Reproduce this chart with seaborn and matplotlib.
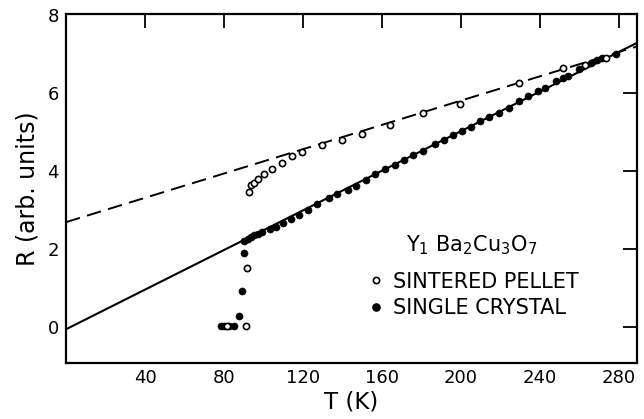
import matplotlib
matplotlib.use("Agg")
import matplotlib.pyplot as plt
import seaborn as sns
import pandas as pd
from matplotlib.lines import Line2D

# ---- data ----
crystal_T = [78.5, 80.2, 82.7, 85.2, 87.8, 88.9, 90.0, 90.3, 92.0, 93.7, 95.3, 97.0,
             99.5, 103.4, 106.3, 110.0, 113.9, 118.1, 122.4, 127.2, 133.0, 137.5,
             142.6, 146.9, 152.0, 156.7, 161.7, 166.6, 171.4, 176.0, 180.7, 187.1,
             191.2, 196.0, 200.6, 205.3, 209.9, 214.3, 219.3, 224.4, 229.5, 234.2,
             239.1, 242.4, 248.4, 251.8, 254.3, 260.0, 266.1, 269.0, 271.7, 278.8]
crystal_R = [0.03, 0.03, 0.03, 0.03, 0.28, 0.93, 1.91, 2.22, 2.27, 2.32, 2.35, 2.38,
             2.44, 2.51, 2.56, 2.66, 2.76, 2.87, 3.00, 3.15, 3.30, 3.40,
             3.52, 3.62, 3.77, 3.92, 4.04, 4.16, 4.28, 4.41, 4.52, 4.69,
             4.80, 4.91, 5.01, 5.13, 5.28, 5.37, 5.48, 5.62, 5.78, 5.92,
             6.05, 6.12, 6.31, 6.37, 6.42, 6.60, 6.77, 6.84, 6.88, 6.99]

pellet_T = [81.3, 91.2, 91.7, 92.5, 93.7, 95.0, 97.3, 100.2, 104.4, 109.5, 114.4,
            119.6, 129.8, 139.6, 149.7, 164.3, 180.9, 199.3, 229.6, 251.5, 262.7, 273.3]
pellet_R = [0.03, 0.03, 1.52, 3.47, 3.63, 3.70, 3.79, 3.93, 4.06, 4.19, 4.38,
            4.48, 4.65, 4.80, 4.95, 5.18, 5.47, 5.70, 6.26, 6.62, 6.72, 6.90]

fit_T = [0, 289]
solid_R = [-0.05, 7.27]
dashed_R = [2.69, 7.18]

x_ticks = [40, 80, 120, 160, 200, 240, 280]
y_ticks = [0, 2, 4, 6, 8]
compound = "Y$_{1}$ Ba$_{2}$Cu$_{3}$O$_{7}$"
label_pellet = "SINTERED PELLET"
label_crystal = "SINGLE CRYSTAL"

# ---- plotting ----
sns.set_style("white")
plt.rcParams["font.family"] = ["DejaVu Sans"]
plt.rcParams["mathtext.fontset"] = "dejavusans"
for key in ["text.color", "axes.labelcolor", "xtick.color", "ytick.color", "axes.edgecolor"]:
    plt.rcParams[key] = "black"

fig = plt.figure(figsize=(6.44, 4.19), dpi=100)
ax = fig.add_axes([66 / 644, 1 - 362.5 / 419, (637 - 66) / 644, (362.5 - 14.5) / 419])

fit_df = pd.DataFrame({"T": fit_T, "solid": solid_R, "dashed": dashed_R})
sns.lineplot(data=fit_df, x="T", y="solid", ax=ax, color="black", lw=1.5)
sns.lineplot(data=fit_df, x="T", y="dashed", ax=ax, color="black", lw=1.4,
             dashes=False, linestyle=(0, (7.5, 3.8)))

cdf = pd.DataFrame({"T": crystal_T, "R": crystal_R})
pdf = pd.DataFrame({"T": pellet_T, "R": pellet_R})
sns.scatterplot(data=cdf, x="T", y="R", ax=ax, color="black", s=26,
                edgecolor="black", linewidth=0.4, zorder=5)
sns.scatterplot(data=pdf, x="T", y="R", ax=ax, facecolor="white", s=20,
                edgecolor="black", linewidth=1.2, zorder=6)

ax.set_xlim(0, 289.2)
ax.set_ylim(-0.9, 8)
ax.set_xticks(x_ticks)
ax.set_yticks(y_ticks)
ax.tick_params(direction="in", length=10, width=1.3, top=True, right=True,
               labelsize=13, pad=5, color="black", labelcolor="black")
for s in ax.spines.values():
    s.set_linewidth(1.6)
    s.set_color("black")

ax.set_xlabel("T (K)", fontsize=16.5, labelpad=2, color="black")
ax.set_ylabel("R (arb. units)", fontsize=17, labelpad=6, color="black")

ax.text(205.5, 2.11, compound, fontsize=15, ha="center", va="center", color="black")

handles = [
    Line2D([], [], marker="o", ls="none", markerfacecolor="white",
           markeredgecolor="black", markeredgewidth=1.2, markersize=4.5),
    Line2D([], [], marker="o", ls="none", markerfacecolor="black",
           markeredgecolor="black", markersize=5.2),
]
leg = ax.legend(handles, [label_pellet, label_crystal], loc="center left",
                bbox_to_anchor=(0.532, 0.194), frameon=False, fontsize=15,
                handlelength=0.6, handletextpad=0.5, labelspacing=0.32,
                borderpad=0, borderaxespad=0)
for t in leg.get_texts():
    t.set_color("black")

fig.savefig("out.png", dpi=100)
